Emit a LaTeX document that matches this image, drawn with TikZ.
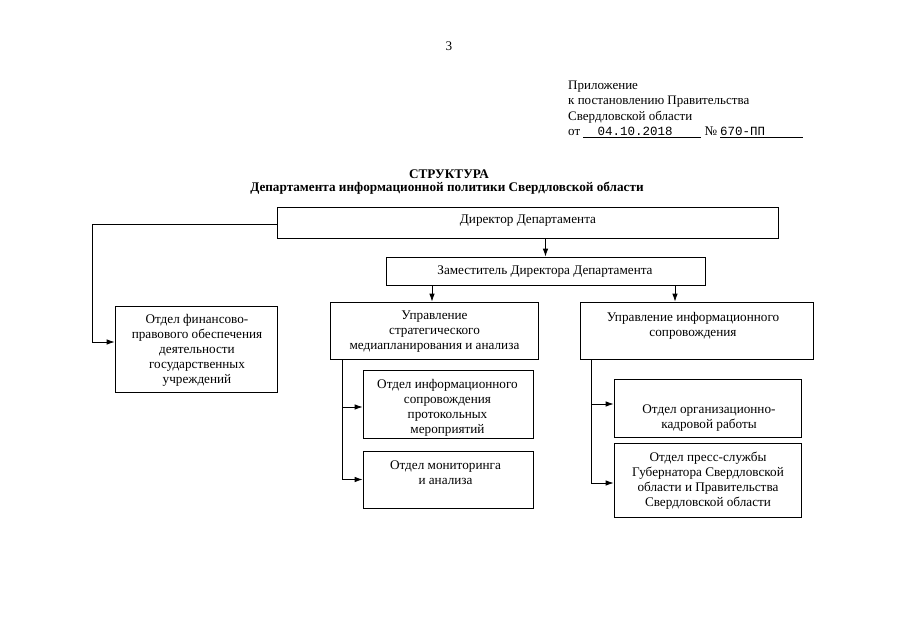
\documentclass[tikz,border=0pt]{standalone}
\usepackage{fontspec}
\setmainfont{Liberation Serif}
\newfontfamily\monofont{Liberation Mono}
\usetikzlibrary{arrows.meta}
\begin{document}
\begin{tikzpicture}[x=1pt,y=-1pt,
  box/.style={draw, line width=0.8pt, inner sep=0pt},
  txt/.style={font=\fontsize{13.2}{15}\selectfont, align=center, inner sep=0pt, yshift=-1.5pt},
  hdr/.style={font=\fontsize{13}{15}\selectfont, align=left, inner sep=0pt, anchor=west, yshift=-2pt},
  ttl/.style={font=\bfseries\fontsize{13.2}{14}\selectfont, inner sep=0pt, yshift=-1.5pt},
  arr/.style={line width=0.8pt, -{Latex[length=8pt,width=5.5pt]}},
  ln/.style={line width=0.6pt}]
\fill[white] (0,0) rectangle (905,640);
\useasboundingbox (0,0) rectangle (905,640);

% page number and header
\node[txt] (pg) at (449,45) {3};
\node[hdr] (h1) at (568,85) {Приложение};
\node[hdr] (h2) at (568,100) {к постановлению Правительства};
\node[hdr] (h3) at (568,115) {Свердловской области};
\node[hdr] (h4) at (568,130) {от};
\node[txt, font=\monofont\fontsize{12.5}{15}\selectfont] (date) at (635,129.5) {04.10.2018};
\node[txt] (nr) at (711,130) {№};
\node[txt, font=\monofont\fontsize{12.5}{15}\selectfont, anchor=west] (num) at (720,129.5) {670-ПП};
\draw[ln] (583,137) -- (701,137);
\draw[ln] (720,137) -- (803,137);

% title
\node[ttl] (t1) at (449,173) {СТРУКТУРА};
\node[ttl] (t2) at (447,187) {Департамента информационной политики Свердловской области};

% boxes
\node[box, minimum width=501pt, minimum height=31pt] (dir) at (527.5,222.5) {};
\node[txt] (dirT) at (528,219) {Директор Департамента};

\node[box, minimum width=319pt, minimum height=28pt] (dep) at (545.5,271) {};
\node[txt] (depT) at (545,270.5) {Заместитель Директора Департамента};

\node[box, minimum width=162pt, minimum height=86pt] (fin) at (196,349) {};
\node[txt] (finT) at (197,348.5) {Отдел финансово-\\правового обеспечения\\деятельности\\государственных\\учреждений};

\node[box, minimum width=208pt, minimum height=57pt] (upr1) at (434,330.5) {};
\node[txt] (upr1T) at (434.5,330.5) {Управление\\стратегического\\медиапланирования и анализа};

\node[box, minimum width=233pt, minimum height=57pt] (upr2) at (696.5,330.5) {};
\node[txt] (upr2T) at (693,324.5) {Управление информационного\\сопровождения};

\node[box, minimum width=170pt, minimum height=68pt] (sub1) at (448,404) {};
\node[txt] (sub1T) at (447.5,406) {Отдел информационного\\сопровождения\\протокольных\\мероприятий};

\node[box, minimum width=170pt, minimum height=57pt] (sub2) at (448,479.5) {};
\node[txt] (sub2T) at (445.5,471.5) {Отдел мониторинга\\и анализа};

\node[box, minimum width=187pt, minimum height=58pt] (sub3) at (707.5,408) {};
\node[txt] (sub3T) at (709,417) {Отдел организационно-\\кадровой работы};

\node[box, minimum width=187pt, minimum height=74pt] (sub4) at (707.5,480) {};
\node[txt] (sub4T) at (708,479) {Отдел пресс-службы\\Губернатора Свердловской\\области и Правительства\\Свердловской области};

% connectors
\draw[arr] ([yshift=-1.5pt]dir.west) -- ++(-184,0) |- ([yshift=7pt]fin.west);
\draw[arr] (dir.south -| dep.north) -- (dep.north);
\draw[arr] ([xshift=-113.5pt]dep.south) -- ([xshift=-113.5pt]dep.south |- upr1.north);
\draw[arr] ([xshift=129.5pt]dep.south) -- ([xshift=129.5pt]dep.south |- upr2.north);

\coordinate (v1) at ([xshift=13pt]upr1.south west);
\draw[arr] (v1) |- ([yshift=-3pt]sub1.west);
\draw[arr] (v1) |- (sub2.west);

\coordinate (v2) at ([xshift=12pt]upr2.south west);
\draw[arr] (v2) |- ([yshift=4pt]sub3.west);
\draw[arr] (v2) |- ([yshift=-3pt]sub4.west);
\end{tikzpicture}
\end{document}
